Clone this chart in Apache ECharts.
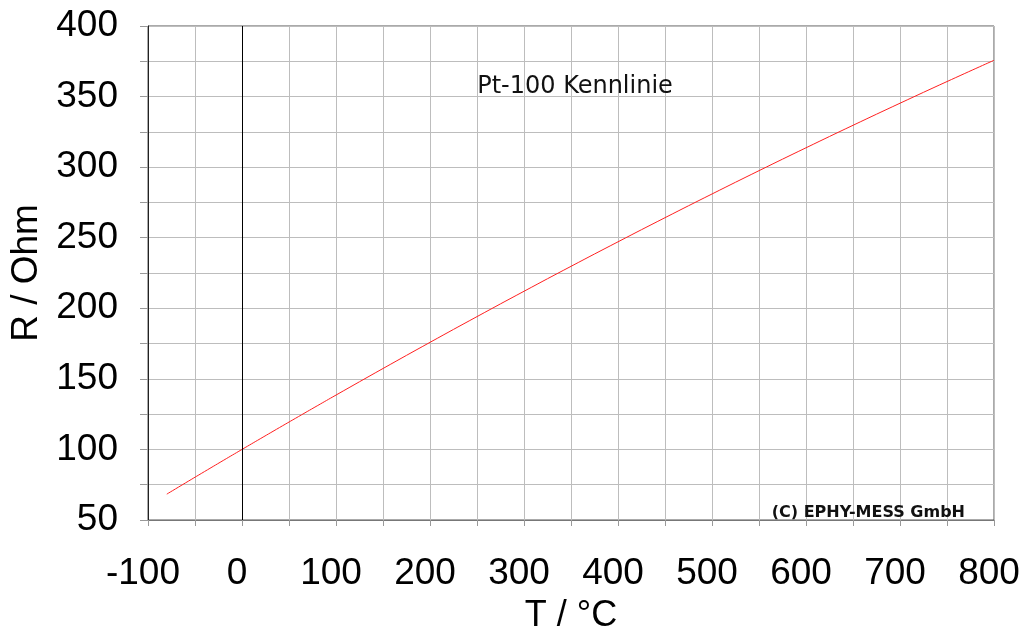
<!DOCTYPE html>
<html>
<head>
<meta charset="utf-8">
<script src="https://cdn.jsdelivr.net/npm/echarts@6/dist/echarts.min.js"></script>
<style>
  html, body { margin: 0; padding: 0; background: #fff; }
  #chart { width: 1027px; height: 637px; }
</style>
</head>
<body>
<div id="chart"></div>
<script>
// Pt-100 resistance characteristic: temperature (°C) vs. resistance (Ohm)
const temperatures = [-80, -60, -40, -20, 0, 20, 40, 60, 80, 100, 150, 200, 250, 300, 350, 400, 450, 500, 550, 600, 650, 700, 750, 800];
const resistances  = [68.33, 76.33, 84.27, 92.16, 100.00, 107.79, 115.54, 123.24, 130.90, 138.51, 157.33, 175.86, 194.10, 212.05, 229.72, 247.09, 264.18, 280.98, 297.49, 313.71, 329.64, 345.28, 360.64, 375.70];

const xTickLabels = [-100, 0, 100, 200, 300, 400, 500, 600, 700, 800];
const yTickLabels = [50, 100, 150, 200, 250, 300, 350, 400];

const chartTitle = 'Pt-100 Kennlinie';
const copyright = '(C) EPHY-MESS GmbH';
const xName = 'T / °C';
const yName = 'R / Ohm';

const points = temperatures.map((t, i) => [t, resistances[i]]);
const font = '"Liberation Sans", Arial, sans-serif';
const smallFont = '"DejaVu Sans", sans-serif';

const chart = echarts.init(document.getElementById('chart'), null, { renderer: 'canvas' });
chart.setOption({
  animation: false,
  backgroundColor: '#ffffff',
  grid: {
    left: 148, right: 33, top: 26, bottom: 117,
    outerBoundsMode: 'none',
    containLabel: false,
    show: true, borderColor: '#555555', borderWidth: 1, backgroundColor: 'transparent'
  },
  title: [
    { text: chartTitle, left: 570, top: 70, textAlign: 'center',
      textStyle: { fontFamily: smallFont, fontSize: 24, fontWeight: 'normal', color: '#111' } },
    { text: copyright, right: 57, top: 500,
      textStyle: { fontFamily: smallFont, fontSize: 16, fontWeight: 'bold', color: '#111' } }
  ],
  xAxis: {
    type: 'value', min: -100, max: 800, interval: 50,
    name: xName, nameLocation: 'middle', nameGap: 78,
    nameTextStyle: { fontFamily: font, fontSize: 36, color: '#000' },
    axisLine: { show: true, onZero: false, lineStyle: { color: '#777', width: 1 } },
    axisTick: { show: true, length: 6, lineStyle: { color: '#999' } },
    axisLabel: {
      fontFamily: font, fontSize: 37, color: '#000', margin: 35,
      padding: [0, 10, 0, 0],
      formatter: v => xTickLabels.includes(v) ? String(v) : ''
    },
    splitLine: { show: true, lineStyle: { color: '#bdbdbd', width: 1 } }
  },
  yAxis: {
    type: 'value', min: 50, max: 400, interval: 25,
    name: yName, nameLocation: 'middle', nameGap: 103,
    nameTextStyle: { fontFamily: font, fontSize: 37, color: '#000' },
    axisLine: { show: true, onZero: false, lineStyle: { color: '#222', width: 1 } },
    axisTick: { show: true, length: 8, lineStyle: { color: '#999' } },
    axisLabel: {
      fontFamily: font, fontSize: 37, color: '#000', margin: 30,
      formatter: v => yTickLabels.includes(v) ? String(v) : ''
    },
    splitLine: { show: true, lineStyle: { color: '#bdbdbd', width: 1 } }
  },
  series: [{
    type: 'line',
    data: points,
    smooth: true,
    showSymbol: false,
    lineStyle: { color: '#ff2020', width: 1 },
    markLine: {
      silent: true, symbol: 'none', label: { show: false },
      lineStyle: { color: '#000', width: 1, type: 'solid' },
      data: [{ xAxis: 0 }]
    }
  }]
});
</script>
</body>
</html>
